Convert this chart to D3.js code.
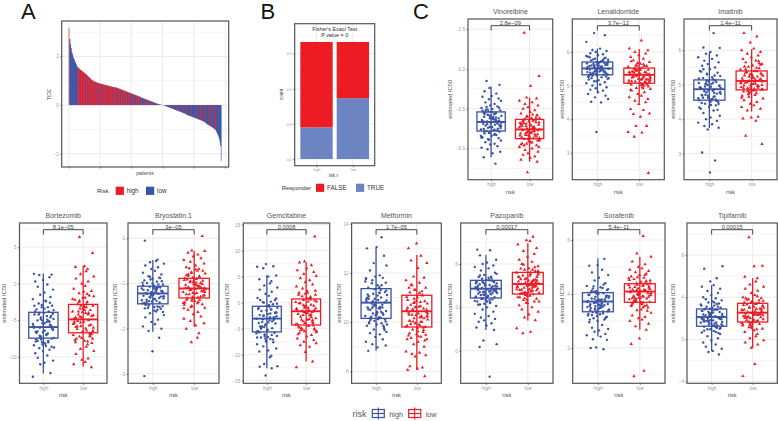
<!DOCTYPE html>
<html>
<head>
<meta charset="utf-8">
<script src="https://cdn.jsdelivr.net/npm/d3@7"></script>
<style>
  html, body { margin: 0; background: #fff; }
  text { font-family: "Liberation Sans", Arial, sans-serif; }
</style>
</head>
<body>
<div id="chart"></div>
<script>
// panel A: TIDE per patient, sorted
const tideValues = [3.17,2.72,2.5,2.35,2.2,2.1,2.0,1.93,1.87,1.8,1.75,1.68,1.62,1.57,
  1.54,1.52,1.5,1.47,1.45,1.43,1.41,1.39,1.37,1.35,1.33,1.31,1.28,1.26,1.24,1.21,1.19,1.16,1.14,1.11,1.08,1.06,1.04,1.02,1.0,0.98,
  0.97,0.96,0.95,0.94,0.93,0.92,0.91,0.9,0.89,0.88,0.88,0.87,0.86,0.86,0.85,0.84,0.84,0.83,0.82,0.82,0.81,0.8,0.8,0.79,0.78,0.78,0.77,0.76,0.76,0.75,0.74,0.74,0.73,0.73,0.72,0.72,
  0.71,0.7,0.69,0.68,0.67,0.66,0.65,0.64,0.63,0.62,0.61,0.6,0.59,0.58,0.57,0.56,0.55,0.54,0.53,0.52,0.51,0.5,0.49,0.48,0.47,0.46,0.45,0.44,0.43,0.42,0.41,0.4,0.39,0.38,0.37,0.36,0.35,0.34,0.32,
  0.31,0.3,0.29,0.28,0.27,0.26,0.25,0.24,0.23,0.22,0.21,0.2,0.19,0.18,0.17,0.16,0.15,0.14,0.13,0.12,0.11,0.1,0.09,0.08,0.07,0.06,0.05,0.04,0.03,0.025,0.02,0.015,0.01,0.005,0.002,0,
  -0.01,-0.02,-0.03,-0.04,-0.05,-0.06,-0.07,-0.08,-0.09,-0.1,-0.11,-0.12,-0.13,-0.14,-0.15,-0.16,-0.17,-0.18,-0.19,-0.2,-0.21,-0.22,-0.23,-0.24,-0.25,-0.26,-0.27,-0.28,-0.29,-0.3,-0.31,-0.32,-0.33,-0.34,-0.35,-0.36,-0.38,-0.4,
  -0.41,-0.42,-0.43,-0.44,-0.45,-0.46,-0.47,-0.48,-0.49,-0.5,-0.51,-0.52,-0.53,-0.54,-0.55,-0.56,-0.57,-0.58,-0.59,-0.6,-0.61,-0.62,-0.63,-0.64,-0.65,-0.67,-0.68,-0.7,-0.71,-0.73,-0.75,-0.78,
  -0.8,-0.81,-0.83,-0.84,-0.86,-0.87,-0.89,-0.9,-0.92,-0.94,-0.96,-0.98,-1.0,-1.03,
  -1.08,-1.13,-1.18,-1.24,-1.3,-1.4,-1.52,-1.68,-2.3];
const tideRisk = ("hlllllllllllll" + "hhhlhhhlhhhhlhhlhhhlhhhlhh" + "lhhhlhhlhhhhlhlhhhlhhhlhhlhhhlhhlhhh" +
  "lhlhhlhlhhlhlhhlhlhlhhlhlhlhhlllhhlhlhl" + "lhlllhlhllhlllhlhlllhlllhlhllllhllll" +
  "lllhlllllhllllllhllllllhlllhlllllhllll" + "lhlllllhllllhlllllhllhlllhlllhll" + "lllhlllhlllhlh" + "lllll" + "llll").split("");
const tideTicks = [-2, 0, 2];
const patientTicks = [0, 50, 100, 150, 200, 250];

// panel B: share of responders per risk group
const riskGroups = ["high", "low"];
const responderKeys = ["TRUE", "FALSE"];
const responderTrue = [0.27, 0.52];
const responderFalse = [0.73, 0.48];
const shareTicks = [0, 0.3, 0.6, 0.9];

// panel C: estimated IC50
const drugNames = ["Vinorelbine","Lenalidomide","Imatinib","Bortezomib","Bryostatin.1","Gemcitabine","Metformin","Pazopanib","Sorafenib","Tipifarnib"];
const drugPvalues = ["2.8e\u221209","3.7e\u221212","1.4e\u221211","8.1e\u221205","3e\u221205","0.0008","1.7e\u221205","0.00017","5.4e\u221211","0.00015"];
const drugTicks = [[-5,-2.5,0,2.5],[3,4,5,6],[3,4,5,6],[-10,-5,0,5],[-3,-2,-1,0],[-15,-10,-5,0,5,10,15],[8,10,12,14],[0,3,6],[2,4,6],[-4,0,4,8]];
// whisker low, q1, median, q3, whisker high
const boxHigh = [[-5.55,-3.9,-3.33,-2.7,-1.1],[4.82,5.32,5.51,5.7,6.1],[3.74,4.55,4.87,5.14,5.96],[-12.26,-7.43,-5.92,-3.9,1.4],[-2.07,-1.45,-1.22,-1.06,-0.48],
  [-12.6,-5.63,-3.07,-0.7,5.3],[8.83,10.15,10.79,11.36,13.02],[1.43,3.65,4.29,4.87,6.62],[2.42,3.34,3.72,4.05,5.32],[-1.11,1.24,2.12,2.88,5.16]];
const boxLow = [[-5.83,-4.38,-3.8,-3.17,-1.8],[4.49,5.07,5.32,5.52,6.09],[4.22,4.85,5.11,5.4,6.03],[-11.35,-6.7,-4.87,-2.82,2.46],[-1.96,-1.32,-1.11,-0.885,-0.28],
  [-11.3,-4.3,-1.66,0.7,7.76],[8.05,9.8,10.44,11.09,12.73],[2.08,3.92,4.62,5.42,7.43],[2.67,3.69,4.09,4.38,5.38],[-0.8,1.64,2.53,3.42,5.8]];

const pointsHigh = [
  [-5.95,-5.55,-5.3,-5.2,-5.05,-4.95,-4.85,-4.75,-4.7,-4.6,-4.5,-4.45,-4.35,-4.3,-4.2,-4.15,-4.05,-4.0,-3.95,-3.9,-3.85,-3.8,-3.75,-3.7,-3.65,-3.6,-3.55,-3.5,-3.45,-3.4,-3.35,-3.3,-3.25,-3.2,-3.15,-3.1,-3.05,-3.0,-2.95,-2.9,-2.85,-2.8,-2.75,-2.7,-2.6,-2.55,-2.45,-2.35,-2.3,-2.2,-2.1,-2.0,-1.9,-1.85,-1.75,-1.7,-1.55,-1.4,-1.2,-1.0,-0.75],
  [3.62,4.5,4.52,4.6,4.65,4.7,4.75,4.8,4.85,4.88,4.92,4.95,5.0,5.03,5.07,5.1,5.13,5.16,5.2,5.22,5.25,5.27,5.3,5.32,5.35,5.37,5.4,5.42,5.44,5.46,5.48,5.5,5.52,5.54,5.56,5.58,5.6,5.62,5.64,5.66,5.68,5.7,5.72,5.75,5.77,5.8,5.83,5.86,5.9,5.93,5.96,6.0,6.03,6.06,6.1,6.3,6.5,6.56],
  [2.45,2.8,3.03,3.7,3.75,3.8,3.85,3.9,3.95,4.0,4.05,4.1,4.18,4.25,4.3,4.35,4.4,4.45,4.5,4.55,4.58,4.62,4.66,4.7,4.74,4.78,4.82,4.86,4.9,4.94,4.98,5.02,5.05,5.08,5.12,5.16,5.2,5.25,5.3,5.35,5.4,5.45,5.5,5.55,5.6,5.65,5.7,5.75,5.8,5.85,5.9,5.95,6.07,6.08,6.5],
  [-12.7,-12.2,-11,-10.8,-10.5,-10.1,-9.8,-9.5,-9.2,-9,-8.8,-8.6,-8.4,-8.2,-8,-7.8,-7.6,-7.4,-7.2,-7,-6.8,-6.6,-6.4,-6.2,-6,-5.8,-5.6,-5.4,-5.2,-5,-4.8,-4.6,-4.4,-4.2,-4,-3.8,-3.5,-3.2,-3,-2.7,-2.4,-2.1,-1.8,-1.5,-1.2,-0.8,-0.4,-0.1,0.3,0.5,0.9,1.2,1.25,1.35],
  [-3.05,-2.5,-2.2,-2.05,-2,-1.95,-1.9,-1.85,-1.8,-1.75,-1.7,-1.66,-1.62,-1.58,-1.55,-1.52,-1.5,-1.47,-1.44,-1.42,-1.4,-1.38,-1.36,-1.33,-1.31,-1.29,-1.27,-1.25,-1.23,-1.21,-1.19,-1.17,-1.15,-1.13,-1.11,-1.09,-1.07,-1.05,-1.02,-0.99,-0.96,-0.93,-0.9,-0.87,-0.84,-0.8,-0.76,-0.72,-0.68,-0.64,-0.6,-0.56,-0.53,-0.5,-0.47,-0.05],
  [-14,-12.6,-12.3,-12.2,-11.8,-10.5,-10.2,-9.4,-9.2,-8.8,-8.4,-8,-7.6,-7.3,-7,-6.7,-6.4,-6.1,-5.8,-5.5,-5.2,-4.9,-4.6,-4.3,-4,-3.7,-3.4,-3.1,-2.8,-2.5,-2.2,-1.9,-1.6,-1.3,-1,-0.7,-0.3,0.1,0.5,0.9,1.3,1.7,2.1,2.5,2.9,3.3,3.7,4.1,4.5,5,5.2,6.6,6.9,7,7.4],
  [8.83,8.97,9.05,9.1,9.2,9.3,9.4,9.5,9.55,9.6,9.7,9.8,9.85,9.9,9.95,10,10.05,10.1,10.15,10.2,10.25,10.3,10.35,10.4,10.45,10.5,10.55,10.6,10.65,10.7,10.75,10.8,10.85,10.9,10.95,11,11.05,11.1,11.15,11.2,11.3,11.4,11.5,11.6,11.7,11.75,11.8,11.85,11.9,12.1,12.3,12.4,12.7,13,13.05,13.45],
  [-1.8,0.25,0.45,0.7,1.43,1.6,1.75,1.9,2,2.1,2.2,2.3,2.4,2.55,2.7,2.85,3,3.1,3.2,3.3,3.4,3.5,3.55,3.6,3.7,3.75,3.8,3.85,3.9,3.95,4,4.05,4.1,4.15,4.2,4.25,4.3,4.35,4.4,4.45,4.5,4.55,4.6,4.65,4.7,4.75,4.8,4.9,5,5.1,5.25,5.4,5.55,5.7,5.8,5.9,6,6.1,6.3,6.6,6.95,7],
  [1.95,2,2.02,2.3,2.32,2.42,2.47,2.52,2.6,2.65,2.7,2.75,2.85,2.95,3,3.05,3.1,3.15,3.2,3.25,3.3,3.35,3.4,3.43,3.46,3.5,3.53,3.56,3.6,3.63,3.66,3.7,3.73,3.76,3.8,3.83,3.86,3.9,3.93,3.96,4,4.03,4.06,4.1,4.15,4.2,4.25,4.3,4.4,4.5,4.6,4.7,4.8,4.9,5.05,5.07,5.3],
  [-1.45,-1.2,-1.1,-0.9,-0.7,-0.5,-0.3,-0.1,0.1,0.3,0.5,0.65,0.8,0.95,1.1,1.2,1.3,1.4,1.5,1.6,1.7,1.8,1.9,2,2.05,2.1,2.15,2.2,2.3,2.4,2.5,2.6,2.7,2.75,2.8,2.85,2.9,3,3.1,3.2,3.3,3.4,3.5,3.6,3.7,3.8,3.9,4,4.2,4.4,4.6,4.8,5.0,5.15,5.5,5.8,6.7,6.95]
];
const pointsLow = [
  [-6.5,-5.83,-5.7,-5.6,-5.5,-5.4,-5.3,-5.2,-5.1,-5,-4.9,-4.8,-4.7,-4.6,-4.5,-4.4,-4.35,-4.3,-4.25,-4.2,-4.15,-4.1,-4.05,-4,-3.95,-3.9,-3.85,-3.8,-3.75,-3.7,-3.65,-3.6,-3.55,-3.5,-3.45,-3.4,-3.35,-3.3,-3.25,-3.2,-3.1,-3,-2.9,-2.8,-2.7,-2.6,-2.5,-2.4,-2.3,-2.2,-2.1,-2,-1.85,-1.8,-1.07,-0.44,2.28],
  [2.4,3.48,3.6,3.62,3.8,3.8,4.07,4.17,4.15,4.27,4.3,4.45,4.5,4.55,4.6,4.65,4.7,4.75,4.8,4.85,4.9,4.93,4.96,5.0,5.03,5.06,5.09,5.12,5.15,5.18,5.2,5.23,5.26,5.28,5.3,5.32,5.35,5.37,5.4,5.42,5.45,5.47,5.5,5.52,5.55,5.58,5.6,5.65,5.7,5.75,5.8,5.85,5.9,5.95,6.0,6.05,6.1,6.34],
  [3.28,3.52,3.95,4.02,4.05,4.07,4.25,4.3,4.35,4.4,4.45,4.5,4.55,4.6,4.65,4.7,4.75,4.8,4.83,4.86,4.9,4.93,4.96,5.0,5.03,5.06,5.09,5.12,5.15,5.18,5.21,5.24,5.27,5.3,5.33,5.36,5.4,5.44,5.48,5.52,5.56,5.6,5.65,5.7,5.75,5.8,5.85,5.9,5.95,6.0,6.05,6.23,6.4,6.5],
  [-11.4,-11,-10.7,-10.4,-10.2,-9.6,-9.2,-8.9,-8.6,-8.3,-8,-7.8,-7.5,-7.2,-7,-6.8,-6.6,-6.4,-6.2,-6,-5.8,-5.6,-5.4,-5.2,-5,-4.8,-4.6,-4.4,-4.2,-4,-3.8,-3.6,-3.4,-3.2,-3,-2.8,-2.5,-2.2,-1.9,-1.6,-1.3,-1,-0.7,-0.3,0,0.3,0.7,1,1.3,1.7,2,2.3,2.4,4.2,6.4],
  [-2.3,-2.2,-2.1,-2,-1.93,-1.88,-1.83,-1.78,-1.73,-1.68,-1.63,-1.58,-1.54,-1.5,-1.46,-1.42,-1.39,-1.36,-1.33,-1.3,-1.27,-1.24,-1.21,-1.19,-1.17,-1.14,-1.12,-1.1,-1.08,-1.06,-1.03,-1.01,-0.99,-0.97,-0.94,-0.92,-0.9,-0.87,-0.84,-0.81,-0.78,-0.75,-0.72,-0.68,-0.64,-0.6,-0.56,-0.52,-0.48,-0.44,-0.4,-0.36,-0.32,-0.28,-0.27,0.05],
  [-12.4,-11.3,-9.5,-8.5,-8.2,-7.8,-7.5,-7.2,-6.9,-6.5,-6.2,-5.8,-5.5,-5.2,-4.9,-4.5,-4.2,-3.9,-3.6,-3.3,-3,-2.7,-2.4,-2.2,-2,-1.8,-1.6,-1.4,-1.2,-1,-0.7,-0.4,-0.1,0.2,0.5,0.8,1.1,1.5,1.9,2.3,2.7,3.1,3.5,3.9,4.3,4.7,5.1,5.5,5.9,6.2,6.6,7.2,7.7,7.9,12.7],
  [7.8,8.05,8.1,8.15,8.2,8.6,8.65,8.7,8.75,8.8,9,9.1,9.2,9.3,9.35,9.4,9.45,9.5,9.6,9.7,9.8,9.85,9.9,9.95,10,10.05,10.1,10.15,10.2,10.25,10.3,10.35,10.4,10.45,10.5,10.55,10.6,10.65,10.7,10.75,10.8,10.85,10.9,11,11.1,11.2,11.3,11.4,11.5,11.6,11.7,11.8,11.85,12.2,12.4,12.5,12.7,13,13.2],
  [1.2,1.3,1.55,2.1,2.3,2.5,2.7,2.85,3,3.15,3.3,3.4,3.5,3.6,3.7,3.8,3.85,3.9,3.95,4,4.05,4.1,4.15,4.2,4.25,4.3,4.35,4.4,4.45,4.5,4.55,4.6,4.65,4.7,4.75,4.8,4.85,4.9,4.95,5,5.1,5.2,5.3,5.4,5.5,5.6,5.7,5.85,6,6.15,6.3,6.5,6.7,6.9,7.1,7.35,7.6,7.65,7.89],
  [0.95,1.15,2.15,2.35,2.67,2.8,2.9,3,3.05,3.1,3.15,3.2,3.3,3.4,3.5,3.55,3.6,3.65,3.7,3.75,3.8,3.83,3.86,3.9,3.93,3.96,4,4.03,4.06,4.1,4.13,4.16,4.2,4.23,4.26,4.3,4.33,4.36,4.4,4.45,4.5,4.55,4.6,4.65,4.7,4.75,4.8,4.85,4.9,4.95,5,5.1,5.2,5.38,5.5,6.15],
  [-3.5,-2.35,-0.8,-0.5,-0.3,-0.1,0.1,0.3,0.5,0.7,0.85,1,1.15,1.3,1.45,1.6,1.7,1.8,1.9,2,2.1,2.2,2.3,2.4,2.45,2.5,2.55,2.6,2.7,2.8,2.9,3,3.1,3.2,3.3,3.4,3.5,3.6,3.7,3.8,3.9,4,4.2,4.4,4.6,4.8,5,5.2,5.5,5.8,5.95,6.95,6.98,9.7]
];
// the crowd of points around each box
const crowdHigh = [
  [-4.42,-3.12,-3.71,-2.58,-4.08,-3.28,-2.93,-3.86,-3.47,-2.44,-4.27,-3.02,-3.63,-2.76,-3.94,-3.38,-2.67,-4.14,-3.19,-3.77,-2.51,-3.54,-2.88,-4.33,-3.43,-2.98,-3.82,-2.72,-3.58,-4.02,-3.09,-2.62,-3.68,-3.24,-2.83,-3.97,-3.52,-2.39,-3.16,-4.21],
  [5.18,5.63,5.41,5.78,5.27,5.55,5.69,5.36,5.47,5.84,5.22,5.59,5.44,5.73,5.31,5.52,5.66,5.39,5.49,5.81,5.13,5.57,5.34,5.71,5.43,5.61,5.26,5.53,5.76,5.38,5.46,5.65,5.29,5.5,5.88,5.42,5.56,5.68,5.33,5.6],
  [4.34,5.02,4.68,5.27,4.47,4.91,5.11,4.59,4.76,5.38,4.41,4.96,4.71,5.18,4.53,4.84,5.06,4.62,4.79,5.32,4.27,4.93,4.56,5.13,4.69,4.99,4.44,4.81,5.22,4.61,4.74,5.04,4.5,4.77,5.45,4.65,4.88,5.09,4.57,4.95],
  [-8.7,-4.8,-6.9,-3.2,-7.9,-5.4,-4.1,-7.1,-5.9,-2.6,-8.3,-4.4,-6.5,-3.6,-7.6,-5.7,-3.0,-8.1,-5.1,-6.7,-2.9,-6.1,-4.2,-8.5,-5.5,-4.6,-7.3,-3.4,-6.3,-7.8,-4.9,-3.8,-6.6,-5.2,-4.0,-7.5,-6.0,-2.3,-5.0,-8.0],
  [-1.6,-1.18,-1.39,-0.98,-1.52,-1.24,-1.09,-1.41,-1.28,-0.91,-1.56,-1.14,-1.35,-1.02,-1.47,-1.26,-0.95,-1.54,-1.2,-1.37,-0.88,-1.3,-1.1,-1.63,-1.23,-1.12,-1.43,-1,-1.32,-1.49,-1.16,-1.04,-1.34,-1.22,-1.08,-1.46,-1.29,-0.85,-1.17,-1.51],
  [-7.5,-2.1,-5,-0.2,-6.4,-3,-1.2,-5.3,-3.6,0.5,-6.9,-1.9,-4.6,-0.8,-5.9,-3.3,0,-6.6,-2.6,-4.8,0.2,-3.9,-1.5,-7.1,-3.2,-2,-5.5,-0.5,-4.2,-6.2,-2.4,-1,-4.7,-2.8,-1.3,-5.7,-3.8,0.8,-2.5,-6.7],
  [9.75,10.98,10.32,11.5,9.95,10.7,11.22,10.22,10.56,11.65,9.85,10.85,10.4,11.28,10.08,10.62,11.12,10.28,10.6,11.58,9.68,10.92,10.12,11.34,10.42,10.95,9.9,10.65,11.42,10.18,10.52,11.08,10.02,10.58,11.78,10.36,10.72,11.18,10.16,10.88],
  [3.25,4.5,3.85,5.05,3.45,4.2,4.75,3.72,4.08,5.2,3.35,4.38,3.92,4.82,3.58,4.14,4.66,3.78,4.1,5.12,3.18,4.45,3.62,4.88,3.95,4.48,3.4,4.18,4.98,3.68,4.02,4.62,3.52,4.06,5.32,3.88,4.22,4.72,3.66,4.4],
  [3.1,3.82,3.46,4.18,3.22,3.65,3.97,3.38,3.58,4.28,3.15,3.74,3.5,4.02,3.28,3.62,3.92,3.42,3.57,4.22,3.05,3.79,3.36,4.08,3.52,3.8,3.18,3.64,4.12,3.4,3.55,3.88,3.26,3.6,4.35,3.48,3.68,3.94,3.33,3.77],
  [0.7,2.35,1.5,3.1,0.95,1.95,2.7,1.32,1.82,3.35,0.82,2.2,1.62,2.8,1.15,1.88,2.55,1.42,1.78,3.2,0.6,2.28,1.22,2.9,1.65,2.3,1.0,1.9,3.0,1.35,1.72,2.48,1.08,1.75,3.5,1.58,2.0,2.62,1.28,2.18]
];
const crowdLow = [
  [-4.9,-3.6,-4.19,-3.06,-4.56,-3.76,-3.41,-4.34,-3.95,-2.92,-4.75,-3.5,-4.11,-3.24,-4.42,-3.86,-3.15,-4.62,-3.67,-4.25,-2.99,-4.02,-3.36,-4.81,-3.91,-3.46,-4.3,-3.2,-4.06,-4.5,-3.57,-3.1,-4.16,-3.72,-3.31,-4.45,-4,-2.87,-3.64,-4.69],
  [4.92,5.41,5.16,5.6,5.02,5.33,5.49,5.11,5.24,5.67,4.97,5.38,5.19,5.54,5.06,5.29,5.46,5.14,5.26,5.63,4.87,5.36,5.09,5.51,5.18,5.4,5.01,5.31,5.58,5.13,5.22,5.44,5.04,5.27,5.72,5.17,5.34,5.47,5.08,5.39],
  [4.68,5.28,4.97,5.53,4.78,5.17,5.37,4.88,5.04,5.62,4.72,5.22,4.99,5.45,4.83,5.12,5.32,4.91,5.07,5.58,4.62,5.19,4.86,5.39,4.98,5.26,4.75,5.09,5.49,4.9,5.02,5.3,4.81,5.06,5.68,4.94,5.14,5.35,4.87,5.23],
  [-8.1,-3.8,-6.1,-2.1,-7.2,-4.5,-3.1,-6.4,-5.1,-1.4,-7.7,-3.4,-5.7,-2.5,-6.9,-4.8,-1.9,-7.4,-4.2,-5.9,-1.7,-5.3,-3.2,-7.9,-4.6,-3.6,-6.6,-2.3,-5.5,-7.1,-3.9,-2.8,-5.8,-4.3,-3,-6.8,-5.2,-1.1,-4,-7.5],
  [-1.52,-1.03,-1.26,-0.8,-1.41,-1.1,-0.93,-1.29,-1.15,-0.72,-1.47,-0.98,-1.21,-0.85,-1.36,-1.13,-0.77,-1.44,-1.06,-1.24,-0.69,-1.17,-0.95,-1.55,-1.09,-0.97,-1.31,-0.83,-1.19,-1.38,-1.01,-0.88,-1.22,-1.07,-0.91,-1.34,-1.16,-0.66,-1.04,-1.43],
  [-6.1,-0.7,-3.7,1.2,-5,-1.6,0.2,-3.9,-2.3,1.9,-5.5,-0.5,-3.2,0.6,-4.6,-2,1.5,-5.2,-1.2,-3.4,1.7,-2.5,-0.1,-5.7,-1.8,-0.6,-4.1,0.9,-2.8,-4.8,-1,0.4,-3.3,-1.4,0.1,-4.4,-2.4,2.2,-1.1,-5.3],
  [9.3,10.62,9.95,11.25,9.55,10.35,10.95,9.85,10.2,11.4,9.42,10.5,10.02,11.02,9.68,10.28,10.82,9.92,10.25,11.32,9.25,10.58,9.75,11.08,10.05,10.6,9.48,10.3,11.18,9.82,10.15,10.78,9.62,10.22,11.52,10,10.38,10.88,9.78,10.52],
  [3.4,4.95,4.15,5.6,3.7,4.55,5.25,4.0,4.45,5.78,3.55,4.75,4.22,5.35,3.85,4.5,5.12,4.08,4.48,5.68,3.32,4.88,3.95,5.42,4.25,4.92,3.62,4.52,5.52,3.98,4.35,5.08,3.78,4.42,5.95,4.18,4.6,5.18,3.94,4.82],
  [3.42,4.18,3.82,4.52,3.58,4.02,4.32,3.72,3.95,4.62,3.5,4.1,3.85,4.42,3.65,3.98,4.28,3.78,3.92,4.58,3.38,4.14,3.7,4.4,3.88,4.16,3.55,4,4.48,3.75,3.9,4.24,3.62,3.96,4.7,3.84,4.04,4.34,3.68,4.12],
  [1.05,2.9,2.05,3.65,1.35,2.45,3.25,1.72,2.3,3.9,1.2,2.7,2.12,3.35,1.55,2.38,3.05,1.85,2.28,3.75,0.95,2.82,1.62,3.45,2.15,2.85,1.4,2.42,3.55,1.78,2.22,3.0,1.48,2.32,4.1,2.02,2.5,3.15,1.68,2.75]
];
// horizontal scatter of the jittered points, as a share of the jitter width
const jitterShares = [0.42,-0.71,0.13,0.88,-0.34,-0.92,0.61,-0.08,0.33,-0.55,0.95,-0.21,0.72,-0.83,0.05,0.5,-0.63,-0.15,0.81,-0.44,0.24,-0.98,0.66,-0.29,0.1,0.91,-0.52,0.37,-0.76,-0.03,0.57,-0.38,0.77,-0.88,0.19,-0.12,0.46,-0.67,0.99,-0.25,0.29];

// layout: frame of each boxplot, the y range shown in it, room for the y title
const frames = [[468,19,552.7,179.7],[572.3,19,664.3,179.7],[684,19,777,179.7],[19.5,223,107,383.3],[128,223,219,383.3],[243.3,223,329.7,383.3],[351.6,223,441.3,383.3],[460.7,223,553,383.3],[572.7,223,665,383.3],[687,223,777.3,383.3]];
const yRanges = [[-6.96,3.14],[2.2,6.98],[2.24,6.91],[-13.6,8.3],[-3.21,0.34],[-15.5,15.3],[7.51,14.03],[-2.26,8.84],[0.69,6.63],[-4.18,11.05]];
const yTitleGaps = [16,8.5,9,13.5,11,14,11,9,9,12];

const RED = "#ed1c24", BLUE = "#3a53a4", LIGHT_BLUE = "#6d84c2";
const BORDER = "#555", GRID = "#ececec";

const svg = d3.select("#chart").append("svg")
  .attr("width", 778).attr("height", 421)
  .style("display", "block");

function gridAndFrame(g, x0, y0, x1, y1, x, y, ticks, xTicks) {
  const step = ticks[1] - ticks[0];
  const dom = y.domain();
  let minors = [];
  for (let v = ticks[0] - step / 2; v < dom[1]; v += step) {
    if (v > dom[0]) minors.push(v);
  }
  g.selectAll(".minor").data(minors).enter().append("line")
    .attr("x1", x0).attr("x2", x1)
    .attr("y1", d => y(d)).attr("y2", d => y(d))
    .attr("stroke", GRID).attr("stroke-width", 0.6);
  g.selectAll(".major").data(ticks).enter().append("line")
    .attr("x1", x0).attr("x2", x1)
    .attr("y1", d => y(d)).attr("y2", d => y(d))
    .attr("stroke", GRID).attr("stroke-width", 1);
  g.selectAll(".xmajor").data(xTicks).enter().append("line")
    .attr("y1", y0).attr("y2", y1)
    .attr("x1", d => x(d)).attr("x2", d => x(d))
    .attr("stroke", GRID).attr("stroke-width", 1);
}

function frame(g, x0, y0, x1, y1) {
  g.append("rect")
    .attr("x", x0).attr("y", y0)
    .attr("width", x1 - x0).attr("height", y1 - y0)
    .attr("fill", "none").attr("stroke", BORDER).attr("stroke-width", 1.2);
}

function axes(g, x0, y1, x, y, ticks, opts) {
  const ay = g.append("g").attr("transform", "translate(" + x0 + ",0)")
    .call(d3.axisLeft(y).tickValues(ticks).tickSize(1.5).tickPadding(1.5).tickFormat(opts.yFormat));
  const ax = g.append("g").attr("transform", "translate(0," + y1 + ")")
    .call(d3.axisBottom(x).tickValues(opts.xTicks).tickSize(1.5).tickPadding(1.5).tickFormat(opts.xFormat));
  [ay, ax].forEach(a => {
    a.select(".domain").remove();
    a.selectAll(".tick line").attr("stroke", "#444").attr("stroke-width", 0.7);
    a.selectAll("text").attr("fill", "#999").style("font-size", opts.tickSize + "px");
  });
}

// ---- panel A
function drawWaterfall() {
  const g = svg.append("g");
  const x0 = 61.7, y0 = 21, x1 = 228.7, y1 = 167;
  const x = d3.scaleLinear().domain([-11.2, 255.6]).range([x0, x1]);
  const y = d3.scaleLinear().domain([-2.55, 3.46]).range([y1, y0]);
  gridAndFrame(g, x0, y0, x1, y1, x, y, tideTicks, patientTicks);
  const w = x(1) - x(0);
  const last = tideValues.length - 1;
  g.selectAll(".bar").data(tideValues).enter().append("rect")
    .attr("x", (d, i) => x(i))
    // first and last bars stay hairline thin, the rest overlap to solid stripes
    .attr("width", (d, i) => (i == 0 || i == last) ? w : w * 1.7)
    .attr("y", d => y(Math.max(d, 0)))
    .attr("height", d => Math.abs(y(d) - y(0)))
    .attr("fill", (d, i) => tideRisk[i] == "h" ? RED : BLUE);
  frame(g, x0, y0, x1, y1);
  axes(g, x0, y1, x, y, tideTicks, {
    xTicks: patientTicks, xFormat: "", yFormat: d3.format("d"), tickSize: 4.5
  });
  g.append("text").attr("transform", "translate(51,94.5) rotate(-90)")
    .attr("text-anchor", "middle").attr("font-size", 5).attr("fill", "#444").text("TIDE");
  g.append("text").attr("x", 145).attr("y", 175)
    .attr("text-anchor", "middle").attr("font-size", 5).attr("fill", "#444").text("patients");
  legendSwatches(g, "Risk", 97, 193, [[115.7, RED, "high"], [146, BLUE, "low"]], 186.7);
}

function legendSwatches(g, title, tx, ty, items, ky) {
  g.append("text").attr("x", tx).attr("y", ty).attr("font-size", 6).attr("fill", "#333").text(title);
  items.forEach(it => {
    g.append("rect").attr("x", it[0]).attr("y", ky).attr("width", 8.2).attr("height", 8.2).attr("fill", it[1]);
    g.append("text").attr("x", it[0] + 11).attr("y", ty).attr("font-size", 6.3).attr("fill", "#333").text(it[2]);
  });
}

// ---- panel B
function drawStack() {
  const g = svg.append("g");
  const x0 = 294.7, y0 = 23.7, x1 = 374.7, y1 = 165.7;
  const x = d3.scalePoint().domain(riskGroups).range([x0, x1]).padding(0.6);
  const y = d3.scaleLinear().domain([-0.057, 1.156]).range([y1, y0]);
  gridAndFrame(g, x0, y0, x1, y1, x, y, shareTicks, riskGroups);
  const rows = riskGroups.map((r, i) => ({ risk: r, TRUE: responderTrue[i], FALSE: responderFalse[i] }));
  const stack = d3.stack().keys(responderKeys)(rows);
  const w = x.step() * 0.89;
  g.selectAll(".layer").data(stack).enter().append("g")
    .attr("fill", d => d.key == "TRUE" ? LIGHT_BLUE : RED)
    .selectAll("rect").data(d => d).enter().append("rect")
    .attr("x", d => x(d.data.risk) - w / 2)
    .attr("width", w)
    .attr("y", d => y(d[1]))
    .attr("height", d => y(d[0]) - y(d[1]));
  frame(g, x0, y0, x1, y1);
  axes(g, x0, y1, x, y, shareTicks, {
    xTicks: riskGroups, xFormat: d => d, yFormat: d3.format(".1f"), tickSize: 3.8
  });
  g.append("text").attr("x", 334.7).attr("y", 30.5).attr("text-anchor", "middle")
    .attr("font-size", 5.4).attr("fill", "#333").text("Fisher's Exact Test");
  g.append("text").attr("x", 334.7).attr("y", 36.5).attr("text-anchor", "middle")
    .attr("font-size", 5.4).attr("fill", "#333").text("P value = 0");
  g.append("text").attr("transform", "translate(283,94.5) rotate(-90)")
    .attr("text-anchor", "middle").attr("font-size", 4.6).attr("fill", "#444").text("count");
  g.append("text").attr("x", 333.5).attr("y", 177)
    .attr("text-anchor", "middle").attr("font-size", 5).attr("fill", "#444").text("isk.r");
  legendSwatches(g, "Responder", 281.7, 190, [[316, RED, "FALSE"], [356, LIGHT_BLUE, "TRUE"]], 183.7);
}

// ---- panel C
function drawBoxes(g, x, y, group, stats, color) {
  const cx = x(group), w = x.step() * 0.735;
  g.append("rect").attr("x", cx - w / 2).attr("width", w)
    .attr("y", y(stats[3])).attr("height", y(stats[1]) - y(stats[3]))
    .attr("fill", "#fff").attr("fill-opacity", 0.55)
    .attr("stroke", color).attr("stroke-width", 1.3);
  g.append("line").attr("x1", cx).attr("x2", cx)
    .attr("y1", y(stats[0])).attr("y2", y(stats[4]))
    .attr("stroke", color).attr("stroke-width", 1.3);
  g.append("line").attr("x1", cx - w / 2).attr("x2", cx + w / 2)
    .attr("y1", y(stats[2])).attr("y2", y(stats[2]))
    .attr("stroke", color).attr("stroke-width", 1.9);
}

function drawPoints(g, x, y, group, values, color, symbolType, shift) {
  const sym = d3.symbol().type(symbolType).size(symbolType == d3.symbolCircle ? 4.5 : 5);
  const spread = x.step() * 0.27;
  g.append("g").selectAll("path").data(values).enter().append("path")
    .attr("d", sym)
    .attr("fill", color)
    .attr("transform", (d, i) => {
      const j = jitterShares[(i + shift) % jitterShares.length];
      return "translate(" + (x(group) + j * spread) + "," + y(d) + ")";
    });
}

function drawDrug(k) {
  const g = svg.append("g");
  const f = frames[k], x0 = f[0], y0 = f[1], x1 = f[2], y1 = f[3];
  const x = d3.scalePoint().domain(riskGroups).range([x0, x1]).padding(0.6);
  const y = d3.scaleLinear().domain(yRanges[k]).range([y1, y0]);
  const ticks = drugTicks[k];
  gridAndFrame(g, x0, y0, x1, y1, x, y, ticks, riskGroups);
  drawBoxes(g, x, y, "high", boxHigh[k], BLUE);
  drawBoxes(g, x, y, "low", boxLow[k], RED);
  drawPoints(g, x, y, "high", pointsHigh[k], BLUE, d3.symbolCircle, k * 7);
  drawPoints(g, x, y, "low", pointsLow[k], RED, d3.symbolTriangle, k * 7 + 11);
  drawPoints(g, x, y, "high", crowdHigh[k], BLUE, d3.symbolCircle, k * 5 + 23);
  drawPoints(g, x, y, "low", crowdLow[k], RED, d3.symbolTriangle, k * 5 + 3);
  frame(g, x0, y0, x1, y1);
  axes(g, x0, y1, x, y, ticks, {
    xTicks: riskGroups, xFormat: d => d,
    yFormat: k == 0 ? d3.format(".1f") : d3.format("d"), tickSize: 4.6
  });
  g.append("text").attr("x", (x0 + x1) / 2).attr("y", y0 - 5)
    .attr("text-anchor", "middle").attr("font-size", 7).attr("fill", "#555").text(drugNames[k]);
  g.append("path")
    .attr("d", d3.line()([[x("high"), y0 + 11.5], [x("high"), y0 + 6.7], [x("low"), y0 + 6.7], [x("low"), y0 + 11.5]]))
    .attr("fill", "none").attr("stroke", "#333").attr("stroke-width", 0.9);
  g.append("text").attr("x", (x("high") + x("low")) / 2).attr("y", y0 + 5.6)
    .attr("text-anchor", "middle").attr("font-size", 5.8).attr("fill", "#444").text(drugPvalues[k]);
  g.append("text").attr("x", (x0 + x1) / 2).attr("y", y1 + 14)
    .attr("text-anchor", "middle").attr("font-size", 5.8).attr("fill", "#555").text("risk");
  g.append("text").attr("transform", "translate(" + (x0 - yTitleGaps[k]) + "," + ((y0 + y1) / 2) + ") rotate(-90)")
    .attr("text-anchor", "middle").attr("font-size", 5.8).attr("fill", "#555").text("estimated IC50");
}

function drawBottomLegend() {
  const g = svg.append("g");
  g.append("text").attr("x", 352.5).attr("y", 417).attr("font-size", 9).attr("fill", "#555").text("risk");
  [[372.3, BLUE, "high"], [408.7, RED, "low"]].forEach(it => {
    const kx = it[0];
    g.append("line").attr("x1", kx + 6).attr("x2", kx + 6).attr("y1", 407.5).attr("y2", 419.5)
      .attr("stroke", it[1]).attr("stroke-width", 1.1);
    g.append("rect").attr("x", kx).attr("y", 409.5).attr("width", 12).attr("height", 8)
      .attr("fill", "#fff").attr("stroke", it[1]).attr("stroke-width", 1.2);
    g.append("line").attr("x1", kx).attr("x2", kx + 12).attr("y1", 413.5).attr("y2", 413.5)
      .attr("stroke", it[1]).attr("stroke-width", 1.2);
    g.append("line").attr("x1", kx + 6).attr("x2", kx + 6).attr("y1", 409.5).attr("y2", 417.5)
      .attr("stroke", it[1]).attr("stroke-width", 1.1);
    g.append("text").attr("x", kx + 17).attr("y", 416.5).attr("font-size", 7.3).attr("fill", "#555").text(it[2]);
  });
}

drawWaterfall();
drawStack();
d3.range(drugNames.length).forEach(drawDrug);
drawBottomLegend();

[["A", 21, 19], ["B", 260.5, 18.5], ["C", 413, 18.5]].forEach(d => {
  svg.append("text").attr("x", d[1]).attr("y", d[2])
    .attr("font-size", 22).attr("fill", "#111").text(d[0]);
});
</script>
</body>
</html>
